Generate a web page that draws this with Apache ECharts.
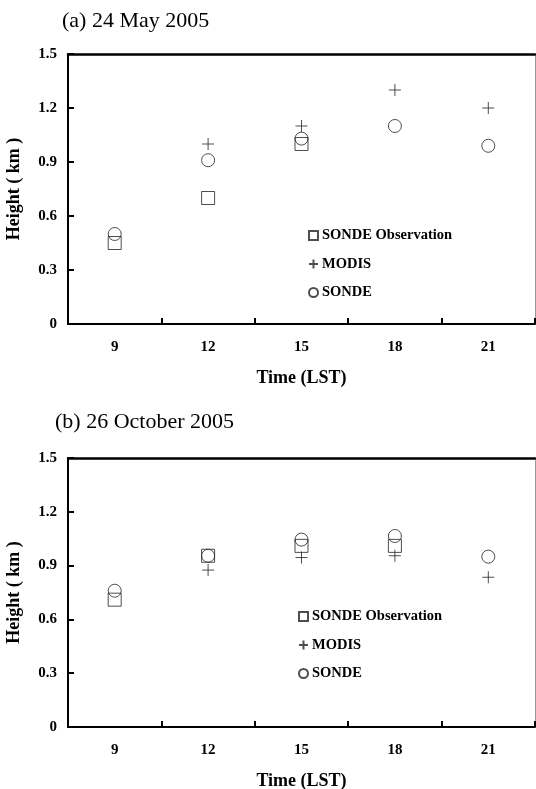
<!DOCTYPE html>
<html>
<head>
<meta charset="utf-8">
<script src="https://cdn.jsdelivr.net/npm/echarts@6/dist/echarts.min.js"></script>
<style>
html,body{margin:0;padding:0;background:#fff;}
#chart{width:536px;height:789px;}
</style>
</head>
<body>
<div id="chart"></div>
<script>
// hours (LST)
var hours = ['9', '12', '15', '18', '21'];
var yTicks = [0, 0.3, 0.6, 0.9, 1.2, 1.5];
var seriesNames = ['SONDE Observation', 'MODIS', 'SONDE'];

// (a) 24 May 2005
var maySondeObs = [0.45, 0.70, 1.00, null, null];
var mayModis = [null, 1.00, 1.10, 1.30, 1.20];
var maySonde = [0.50, 0.91, 1.03, 1.10, 0.99];

// (b) 26 October 2005
var octSondeObs = [0.71, 0.955, 1.01, 1.01, null];
var octModis = [null, 0.875, 0.945, 0.955, 0.835];
var octSonde = [0.76, 0.955, 1.045, 1.065, 0.95];

var serif = 'Liberation Serif';
var plusPath = 'path://M0,6H12M6,0V12';

function fix(arr){
	var out = [];
	for(var i=0;i<arr.length;i++){
		out.push(arr[i] == null ? '-' : arr[i]);
	}
	return out;
}

function $ext(a, b){
	var o = JSON.parse(JSON.stringify(a));
	for(var k in b) o[k] = b[k];
	return o;
}

function makeSeries(idx, obs, modis, sonde){
	var base = {
		type:'scatter',
		xAxisIndex:idx*2,
		yAxisIndex:idx*2,
		symbolSize:13,
		itemStyle:{color:'rgba(0,0,0,0)', borderColor:'#222', borderWidth:1},
		emphasis:{disabled:true}
	};
	return [
		$ext(base, {name:seriesNames[0], symbol:'rect', data:fix(obs)}),
		$ext(base, {name:seriesNames[1], symbol:plusPath, symbolSize:12, data:fix(modis)}),
		$ext(base, {name:seriesNames[2], symbol:'circle', data:fix(sonde)})
	];
}

function xAxes(gi){
	return [{
		type:'category',
		gridIndex:gi,
		data:hours,
		boundaryGap:true,
		name:'Time (LST)',
		nameLocation:'middle',
		nameGap:45,
		nameTextStyle:{fontFamily:serif, fontWeight:'bold', fontSize:18, color:'#000'},
		axisLine:{onZero:false, lineStyle:{color:'#000', width:2}},
		axisTick:{show:true, inside:true, length:6, lineStyle:{color:'#000', width:2}},
		axisLabel:{margin:16, fontFamily:serif, fontWeight:'bold', fontSize:15, color:'#000'},
		splitLine:{show:false},
		z:5
	},{
		type:'category',
		gridIndex:gi,
		position:'top',
		data:hours,
		axisLine:{onZero:false, lineStyle:{color:'#000', width:2.5}},
		axisTick:{show:false},
		axisLabel:{show:false}
	}];
}

function yAxes(gi){
	return [{
		type:'value',
		gridIndex:gi,
		min:0,
		max:1.5,
		interval:0.3,
		name:'Height ( km )',
		nameLocation:'middle',
		nameGap:45,
		nameTextStyle:{fontFamily:serif, fontWeight:'bold', fontSize:18, color:'#000'},
		axisLine:{show:true, onZero:false, lineStyle:{color:'#000', width:2}},
		axisTick:{show:true, inside:true, length:6, lineStyle:{color:'#000', width:2}},
		axisLabel:{margin:11, fontFamily:serif, fontWeight:'bold', fontSize:15, color:'#000',
			formatter:function(v){ return yTicks.indexOf(+v.toFixed(1)) >= 0 ? (v == 0 ? '0' : v.toFixed(1)) : ''; }},
		splitLine:{show:false},
		z:5
	},{
		type:'value',
		gridIndex:gi,
		position:'right',
		min:0,
		max:1.5,
		axisLine:{show:true, onZero:false, lineStyle:{color:'#999', width:1}},
		axisTick:{show:false},
		axisLabel:{show:false},
		splitLine:{show:false}
	}];
}

function legendAt(left, top){
	return {
		orient:'vertical',
		left:left,
		top:top,
		padding:0,
		itemWidth:9,
		itemHeight:9,
		itemGap:13.5,
		selectedMode:false,
		data:seriesNames,
		textStyle:{fontFamily:serif, fontWeight:'bold', fontSize:14.5, color:'#000', padding:[0,0,0,-1]}
	};
}

var option = {
	animation:false,
	backgroundColor:'#fff',
	title:[
		{text:'(a) 24 May 2005', left:57, top:5, textStyle:{fontFamily:serif, fontWeight:'normal', fontSize:22, color:'#000'}},
		{text:'(b) 26 October 2005', left:50, top:406, textStyle:{fontFamily:serif, fontWeight:'normal', fontSize:22, color:'#000'}}
	],
	grid:[
		{left:68, top:54, right:1, height:270, outerBoundsMode:'none'},
		{left:68, top:458, right:1, height:269, outerBoundsMode:'none'}
	],
	legend:[legendAt(308, 228), legendAt(298, 609)],
	xAxis:xAxes(0).concat(xAxes(1)),
	yAxis:yAxes(0).concat(yAxes(1)),
	series:makeSeries(0, maySondeObs, mayModis, maySonde).concat(makeSeries(1, octSondeObs, octModis, octSonde))
};

var myChart = echarts.init(document.getElementById('chart'));
myChart.setOption(option);
</script>
</body>
</html>
